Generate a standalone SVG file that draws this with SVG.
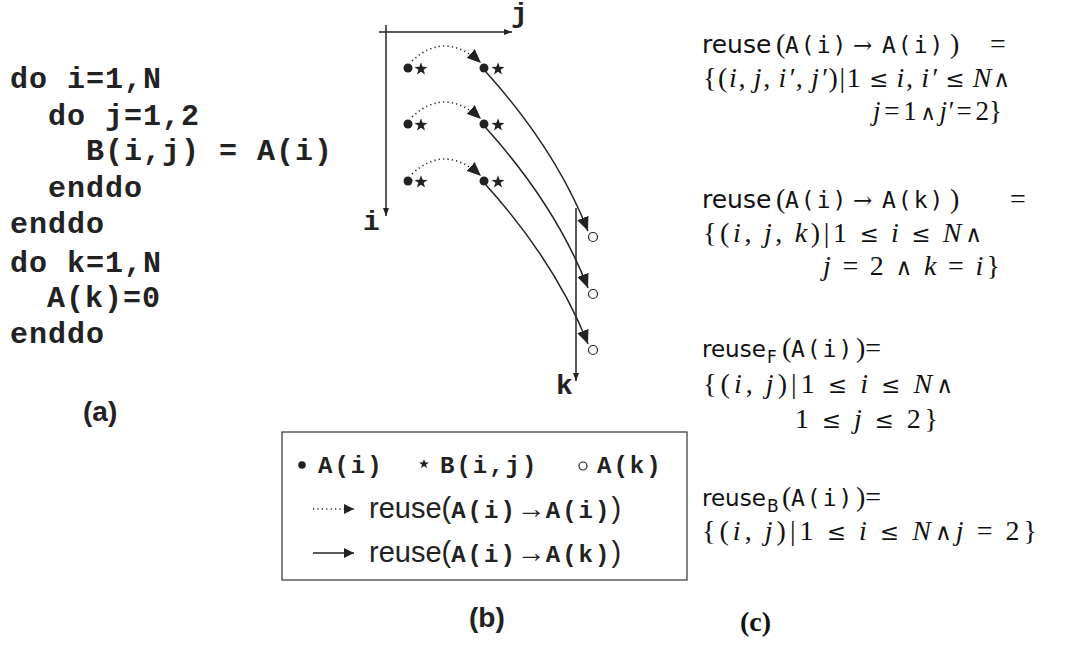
<svg xmlns="http://www.w3.org/2000/svg" width="1068" height="670" viewBox="0 0 1068 670">
<style>
.code{font-family:"Liberation Mono","Courier New",monospace;font-weight:bold;font-size:30px;letter-spacing:1px;fill:#222}
.lab{font-family:"Liberation Sans",Arial,sans-serif;font-weight:bold;font-size:28px;fill:#222}
.ax{font-family:"Liberation Mono",monospace;font-weight:bold;font-size:28px;fill:#222}
.ltt{font-family:"Liberation Mono",monospace;font-weight:bold;font-size:24px;letter-spacing:2px;fill:#222}
.ls{font-family:"Liberation Sans",Arial,sans-serif;font-size:29px;fill:#222}
.tt{font-family:"DejaVu Sans Mono",monospace;font-size:23px;letter-spacing:2px;fill:#111}
.sf{font-family:"DejaVu Sans",sans-serif;font-size:25px;fill:#111}
.sm{font-size:23px}
.sub{font-size:17px}
.m{font-family:"Liberation Serif","Times New Roman",serif;font-size:28px;word-spacing:-2px;fill:#111}
.s{font-family:"DejaVu Serif",serif;font-size:23px}
.i{font-style:italic}
.ln{fill:none;stroke:#222;stroke-width:1.5}
.dot{fill:none;stroke:#222;stroke-width:1.6;stroke-dasharray:1.2,3.2}
</style>
<defs>
<marker id="ah" viewBox="0 0 14 12" refX="14" refY="6" markerWidth="14" markerHeight="12" markerUnits="userSpaceOnUse" orient="auto"><path d="M0,0L14,6L0,12z" fill="#222"/></marker>
<marker id="axh" viewBox="0 0 8 6" refX="8" refY="3" markerWidth="8" markerHeight="6" markerUnits="userSpaceOnUse" orient="auto"><path d="M0,0L8,3L0,6z" fill="#222"/></marker>
<marker id="lh" viewBox="0 0 10 10" refX="10" refY="5" markerWidth="10" markerHeight="10" markerUnits="userSpaceOnUse" orient="auto"><path d="M0,0L10,5L0,10z" fill="#222"/></marker>
<path id="star" d="M0,-6.8L1.6,-2.2L6.5,-2.1L2.6,0.85L4,5.5L0,2.7L-4,5.5L-2.6,0.85L-6.5,-2.1L-1.6,-2.2Z" fill="#222"/>
</defs>

<g id="code">
<text class="code" x="10" y="88">do i=1,N</text>
<text class="code" x="48" y="125">do j=1,2</text>
<text class="code" x="86" y="160">B(i,j) = A(i)</text>
<text class="code" x="48" y="197">enddo</text>
<text class="code" x="10" y="233">enddo</text>
<text class="code" x="10" y="272">do k=1,N</text>
<text class="code" x="47" y="307">A(k)=0</text>
<text class="code" x="10" y="343">enddo</text>
<text class="lab" x="83" y="421">(a)</text>
</g>

<g id="axes">
<line class="ln" x1="379" y1="32" x2="512" y2="32" marker-end="url(#axh)"/>
<line class="ln" x1="386" y1="25" x2="386" y2="216" marker-end="url(#axh)"/>
<line class="ln" x1="576" y1="208" x2="576" y2="381" marker-end="url(#axh)"/>
<text class="ax" x="511" y="22">j</text>
<text class="ax" x="363" y="230">i</text>
<text class="ax" x="556" y="394">k</text>
</g>

<g id="points">
<circle cx="408" cy="68" r="4.5" fill="#222"/><use href="#star" x="421" y="69"/>
<circle cx="484" cy="68" r="4.5" fill="#222"/><use href="#star" x="498" y="69"/>
<circle cx="408" cy="124" r="4.5" fill="#222"/><use href="#star" x="421" y="125"/>
<circle cx="484" cy="124" r="4.5" fill="#222"/><use href="#star" x="498" y="125"/>
<circle cx="408" cy="181" r="4.5" fill="#222"/><use href="#star" x="421" y="182"/>
<circle cx="484" cy="181" r="4.5" fill="#222"/><use href="#star" x="498" y="182"/>
<circle cx="593" cy="237" r="4.5" fill="#fff" stroke="#222" stroke-width="1.2"/>
<circle cx="593" cy="294" r="4.5" fill="#fff" stroke="#222" stroke-width="1.2"/>
<circle cx="593" cy="350" r="4.5" fill="#fff" stroke="#222" stroke-width="1.2"/>
</g>

<g id="connectors">
<path class="dot" d="M412,61 Q445,30 481,63" marker-end="url(#ah)"/>
<path class="dot" d="M412,117 Q445,86 481,119" marker-end="url(#ah)"/>
<path class="dot" d="M412,174 Q445,143 481,176" marker-end="url(#ah)"/>
<path class="ln" d="M486,72 C522,112 562,165 588,231" marker-end="url(#ah)"/>
<path class="ln" d="M486,128 C522,168 562,221 588,288" marker-end="url(#ah)"/>
<path class="ln" d="M486,185 C522,225 562,278 588,344" marker-end="url(#ah)"/>
</g>

<g id="legend">
<rect x="282" y="432" width="405" height="148" fill="none" stroke="#333" stroke-width="1.2"/>
<circle cx="302" cy="465" r="3.8" fill="#222"/>
<text class="ltt" x="318" y="473">A(i)</text>
<use href="#star" transform="translate(424 464) scale(0.75)"/>
<text class="ltt" x="440" y="473">B(i,j)</text>
<circle cx="583" cy="466" r="4" fill="none" stroke="#222" stroke-width="1.2"/>
<text class="ltt" x="597" y="473">A(k)</text>
<line class="dot" x1="313" y1="509" x2="354" y2="509" stroke-width="1.3" stroke-dasharray="1,2.2" marker-end="url(#lh)"/>
<line class="ln" x1="313" y1="553" x2="354" y2="553" marker-end="url(#lh)"/>
<text class="ls" x="369" y="518">reuse(<tspan class="ltt">A(i)</tspan>→<tspan class="ltt">A(i)</tspan>)</text>
<text class="ls" x="369" y="562">reuse(<tspan class="ltt">A(i)</tspan>→<tspan class="ltt">A(k)</tspan>)</text>
<text class="lab" x="469" y="627">(b)</text>
</g>

<g id="formulas">
<text class="sf" x="702" y="53">reuse</text>
<text class="m" x="776" y="53">(</text>
<text class="tt" x="785" y="53">A(i)</text>
<text class="m s" x="853" y="53">→</text>
<text class="tt" x="882" y="53">A(i)</text>
<text class="m" x="950" y="53">)</text>
<text class="m" x="990" y="53">=</text>
<text class="m" x="703" y="87" textLength="307" lengthAdjust="spacing">{(<tspan class="i">i</tspan>, <tspan class="i">j</tspan>, <tspan class="i">i′</tspan>, <tspan class="i">j′</tspan>)|1 <tspan class="s">≤</tspan> <tspan class="i">i</tspan>, <tspan class="i">i′</tspan> <tspan class="s">≤</tspan> <tspan class="i">N</tspan><tspan class="s">∧</tspan></text>
<text class="m" x="873" y="120" style="font-size:27px;word-spacing:-3px" textLength="129" lengthAdjust="spacing"><tspan class="i">j</tspan> = 1 <tspan class="s" style="font-size:21px">∧</tspan> <tspan class="i">j′</tspan> = 2}</text>

<text class="sf" x="702" y="208">reuse</text>
<text class="m" x="776" y="208">(</text>
<text class="tt" x="785" y="208">A(i)</text>
<text class="m s" x="853" y="208">→</text>
<text class="tt" x="882" y="208">A(k)</text>
<text class="m" x="950" y="208">)</text>
<text class="m" x="1010" y="208">=</text>
<text class="m" x="703" y="242" textLength="279" lengthAdjust="spacing">{(<tspan class="i">i</tspan>, <tspan class="i">j</tspan>, <tspan class="i">k</tspan>)|1 <tspan class="s">≤</tspan> <tspan class="i">i</tspan> <tspan class="s">≤</tspan> <tspan class="i">N</tspan><tspan class="s">∧</tspan></text>
<text class="m" x="823" y="275" textLength="177" lengthAdjust="spacing"><tspan class="i">j</tspan> = 2 <tspan class="s">∧</tspan> <tspan class="i">k</tspan> = <tspan class="i">i</tspan>}</text>

<text class="sf sm" x="702" y="357">reuse</text>
<text class="sf sub" x="767" y="363">F</text>
<text class="m" x="782" y="357">(</text>
<text class="tt" x="791" y="357">A(i)</text>
<text class="m" x="856" y="357">)=</text>
<text class="m" x="703" y="393" textLength="250" lengthAdjust="spacing">{(<tspan class="i">i</tspan>, <tspan class="i">j</tspan>)|1 <tspan class="s">≤</tspan> <tspan class="i">i</tspan> <tspan class="s">≤</tspan> <tspan class="i">N</tspan><tspan class="s">∧</tspan></text>
<text class="m" x="795" y="428" textLength="143" lengthAdjust="spacing">1 <tspan class="s">≤</tspan> <tspan class="i">j</tspan> <tspan class="s">≤</tspan> 2}</text>

<text class="sf sm" x="702" y="506">reuse</text>
<text class="sf sub" x="767" y="512">B</text>
<text class="m" x="782" y="506">(</text>
<text class="tt" x="791" y="506">A(i)</text>
<text class="m" x="856" y="506">)=</text>
<text class="m" x="702" y="540" textLength="335" lengthAdjust="spacing">{(<tspan class="i">i</tspan>, <tspan class="i">j</tspan>)|1 <tspan class="s">≤</tspan> <tspan class="i">i</tspan> <tspan class="s">≤</tspan> <tspan class="i">N</tspan><tspan class="s">∧</tspan><tspan class="i">j</tspan> = 2}</text>
<text class="m" x="740" y="631" style="font-weight:bold">(c)</text>
</g>
</svg>
